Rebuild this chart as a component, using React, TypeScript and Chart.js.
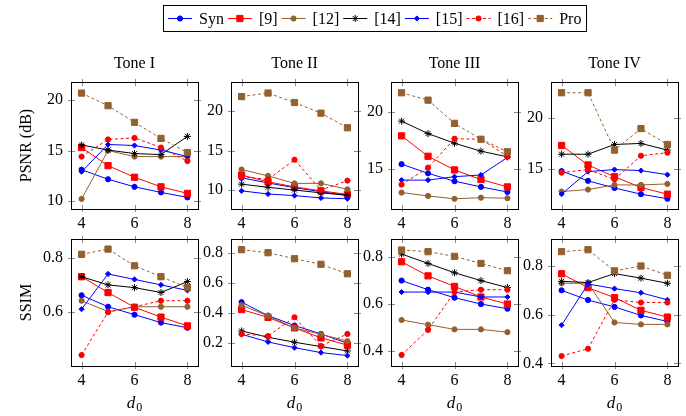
import React, { useEffect, useRef } from 'react';
import { Chart, registerables } from 'chart.js';

Chart.register(...registerables);

const FONT = "'Liberation Serif', 'Times New Roman', 'DejaVu Serif', serif";
const BROWN = '#93602f';
const W = 686;
const H = 416;

// ---------- data ----------
const xValues = [4, 5, 6, 7, 8];
const xTicks = [4, 6, 8];
const toneTitles = ['Tone I', 'Tone II', 'Tone III', 'Tone IV'];
const seriesLabels = ['Syn', '[9]', '[12]', '[14]', '[15]', '[16]', 'Pro'];

// PSNR (dB): one row per tone (I..IV), values at d0 = 4..8
const psnrSyn = [
  [13.1, 12.15, 11.4, 10.85, 10.35],
  [11.55, 10.9, 10.3, 9.8, 9.3],
  [15.4, 14.6, 13.9, 13.4, 12.95],
  [14.8, 13.85, 13.15, 12.55, 12.1],
];
const psnrRef9 = [
  [15.3, 13.5, 12.35, 11.4, 10.75],
  [11.9, 11.05, 10.4, 9.9, 9.45],
  [17.9, 16.1, 14.9, 14.05, 13.4],
  [17.3, 15.4, 14.25, 13.2, 12.55],
];
const psnrRef12 = [
  [10.2, 15.0, 14.4, 14.4, 14.4],
  [12.6, 11.8, 10.85, 10.85, 10.1],
  [12.9, 12.6, 12.35, 12.45, 12.4],
  [12.8, 13.0, 13.45, 13.45, 13.55],
];
const psnrRef14 = [
  [15.55, 15.05, 14.7, 14.6, 16.4],
  [10.75, 10.35, 10.0, 9.65, 9.35],
  [19.2, 18.1, 17.25, 16.55, 16.05],
  [16.45, 16.45, 17.4, 17.5, 16.85],
];
const psnrRef15 = [
  [12.9, 15.6, 15.5, 15.05, 14.4],
  [9.9, 9.5, 9.3, 9.0, 8.9],
  [14.0, 14.0, 14.3, 14.45, 16.0],
  [12.55, 14.75, 14.95, 14.85, 14.45],
];
const psnrRef16 = [
  [14.4, 16.1, 16.25, 15.3, 13.95],
  [11.7, 11.35, 13.85, 10.0, 11.2],
  [13.6, 15.1, 17.65, 17.6, 16.1],
  [14.65, 14.95, 14.0, 16.3, 16.6],
];
const psnrPro = [
  [20.7, 19.45, 17.8, 16.2, 14.8],
  [21.85, 22.3, 21.1, 19.75, 17.9],
  [21.7, 21.05, 19.0, 17.6, 16.5],
  [22.45, 22.45, 16.85, 18.95, 17.4],
];

// SSIM
const ssimSyn = [
  [0.662, 0.62, 0.591, 0.562, 0.543],
  [0.471, 0.382, 0.316, 0.26, 0.198],
  [0.70, 0.661, 0.627, 0.60, 0.58],
  [0.70, 0.66, 0.632, 0.597, 0.572],
];
const ssimRef9 = [
  [0.73, 0.672, 0.618, 0.582, 0.55],
  [0.422, 0.37, 0.30, 0.234, 0.186],
  [0.78, 0.72, 0.675, 0.63, 0.60],
  [0.768, 0.711, 0.67, 0.618, 0.59],
];
const ssimRef12 = [
  [0.642, 0.602, 0.62, 0.62, 0.62],
  [0.451, 0.38, 0.30, 0.258, 0.212],
  [0.532, 0.512, 0.492, 0.492, 0.48],
  [0.729, 0.729, 0.568, 0.56, 0.56],
];
const ssimRef14 = [
  [0.73, 0.70, 0.69, 0.672, 0.712],
  [0.28, 0.238, 0.205, 0.176, 0.147],
  [0.813, 0.773, 0.733, 0.70, 0.67],
  [0.737, 0.732, 0.769, 0.75, 0.729],
];
const ssimRef15 = [
  [0.611, 0.74, 0.72, 0.70, 0.68],
  [0.258, 0.207, 0.169, 0.136, 0.116],
  [0.651, 0.651, 0.651, 0.63, 0.63],
  [0.557, 0.726, 0.707, 0.69, 0.661],
];
const ssimRef16 = [
  [0.443, 0.60, 0.62, 0.642, 0.642],
  [0.26, 0.246, 0.371, 0.18, 0.26],
  [0.383, 0.49, 0.651, 0.661, 0.661],
  [0.43, 0.46, 0.661, 0.65, 0.65],
];
const ssimPro = [
  [0.812, 0.831, 0.77, 0.73, 0.69],
  [0.82, 0.80, 0.76, 0.723, 0.66],
  [0.83, 0.823, 0.803, 0.773, 0.742],
  [0.859, 0.867, 0.78, 0.80, 0.762],
];

// axis ranges and tick labels per tone
const psnrMin = [9.2, 7.6, 11.45, 11.1];
const psnrMax = [21.8, 23.7, 22.65, 23.5];
const psnrTicks = [[10, 15, 20], [10, 15, 20], [15, 20], [15, 20]];
const ssimMin = [0.403, 0.047, 0.336, 0.389];
const ssimMax = [0.868, 0.891, 0.877, 0.911];
const ssimTicks = [[0.6, 0.8], [0.2, 0.4, 0.6, 0.8], [0.4, 0.6, 0.8], [0.4, 0.6, 0.8]];
const rowTitles = ['PSNR (dB)', 'SSIM'];

const psnrSeries = [psnrSyn, psnrRef9, psnrRef12, psnrRef14, psnrRef15, psnrRef16, psnrPro];
const ssimSeries = [ssimSyn, ssimRef9, ssimRef12, ssimRef14, ssimRef15, ssimRef16, ssimPro];

// ---------- styles / layout ----------
type St = { color: string; pointStyle: string; radius: number; dash: number[] };
const seriesStyles: St[] = [
  { color: '#0000ff', pointStyle: 'circle', radius: 2.6, dash: [] },
  { color: '#ff0000', pointStyle: 'rect', radius: 4.4, dash: [] },
  { color: BROWN, pointStyle: 'circle', radius: 2.6, dash: [] },
  { color: '#000000', pointStyle: 'star', radius: 3.5, dash: [] },
  { color: '#0000ff', pointStyle: 'rectRot', radius: 2.6, dash: [] },
  { color: '#ff0000', pointStyle: 'circle', radius: 2.6, dash: [3, 2.5] },
  { color: BROWN, pointStyle: 'rect', radius: 4.4, dash: [3, 2.5] },
];

const colLeft = [71, 231, 391, 551];
const rowTop = [82, 239];
const plotW = 127;
const plotH = 127;

function drawMarker(ctx: CanvasRenderingContext2D, st: St, x: number, y: number) {
  const r = st.radius;
  ctx.save();
  ctx.fillStyle = st.color;
  ctx.strokeStyle = st.color;
  ctx.lineWidth = 1;
  ctx.setLineDash([]);
  ctx.beginPath();
  if (st.pointStyle === 'circle') {
    ctx.arc(x, y, r, 0, Math.PI * 2);
  } else if (st.pointStyle === 'rect') {
    const s = r * Math.SQRT1_2;
    ctx.rect(x - s, y - s, 2 * s, 2 * s);
  } else if (st.pointStyle === 'rectRot') {
    ctx.moveTo(x, y - r);
    ctx.lineTo(x + r, y);
    ctx.lineTo(x, y + r);
    ctx.lineTo(x - r, y);
    ctx.closePath();
  } else {
    for (let k = 0; k < 4; k++) {
      const a = (k * Math.PI) / 4;
      ctx.moveTo(x + Math.cos(a) * r, y + Math.sin(a) * r);
      ctx.lineTo(x - Math.cos(a) * r, y - Math.sin(a) * r);
    }
  }
  if (st.pointStyle !== 'star') ctx.fill();
  ctx.stroke();
  ctx.restore();
}

const legendPlugin = {
  id: 'groupLegend',
  afterDraw(chart: any) {
    const ctx: CanvasRenderingContext2D = chart.ctx;
    ctx.save();
    ctx.font = `16px ${FONT}`;
    const lineLen = 24;
    const gapText = 7;
    const gapEntry = 4;
    const widths = seriesLabels.map((t) => ctx.measureText(t).width);
    let total = 0;
    widths.forEach((w, i) => {
      total += lineLen + gapText + w + (i < widths.length - 1 ? gapEntry : 0);
    });
    const pad = 5;
    const center = (colLeft[0] + colLeft[3] + plotW) / 2;
    const boxL = Math.round(center - total / 2 - pad);
    const boxW = Math.round(total + 2 * pad);
    const boxT = 5;
    const boxH = 26;
    ctx.strokeStyle = '#000';
    ctx.lineWidth = 1;
    ctx.strokeRect(boxL + 0.5, boxT + 0.5, boxW, boxH);
    const cy = boxT + boxH / 2 + 0.5;
    let x = boxL + pad;
    seriesLabels.forEach((t, i) => {
      const st = seriesStyles[i];
      ctx.save();
      ctx.strokeStyle = st.color;
      ctx.lineWidth = 1;
      ctx.setLineDash(st.dash);
      ctx.beginPath();
      ctx.moveTo(x, cy);
      ctx.lineTo(x + lineLen, cy);
      ctx.stroke();
      ctx.restore();
      drawMarker(ctx, st, x + lineLen / 2, cy);
      ctx.fillStyle = '#000';
      ctx.textAlign = 'left';
      ctx.textBaseline = 'alphabetic';
      ctx.fillText(t, x + lineLen + gapText, 24);
      x += lineLen + gapText + widths[i] + gapEntry;
    });
    ctx.restore();
  },
};

function makeDecor(row: number, col: number) {
  return {
    id: 'panelDecor',
    afterDraw(chart: any) {
      const ctx: CanvasRenderingContext2D = chart.ctx;
      const { left, right, top, bottom } = chart.chartArea;
      const xs = chart.scales.x;
      const ys = chart.scales.y;
      ctx.save();
      // tick marks (centered on frame)
      ctx.strokeStyle = '#8a8a8a';
      ctx.lineWidth = 1;
      ctx.beginPath();
      xTicks.forEach((v) => {
        const px = Math.round(xs.getPixelForValue(v)) + 0.5;
        ctx.moveTo(px, bottom - 4);
        ctx.lineTo(px, bottom + 3);
        ctx.moveTo(px, top - 3);
        ctx.lineTo(px, top + 4);
      });
      const yt = row === 0 ? psnrTicks[col] : ssimTicks[col];
      yt.forEach((v) => {
        const py = Math.round(ys.getPixelForValue(v)) + 0.5;
        ctx.moveTo(left - 3, py);
        ctx.lineTo(left + 4, py);
        ctx.moveTo(right - 4, py);
        ctx.lineTo(right + 3, py);
      });
      ctx.stroke();
      // frame
      ctx.strokeStyle = '#000';
      ctx.strokeRect(Math.round(left) + 0.5, Math.round(top) + 0.5, Math.round(right - left), Math.round(bottom - top));
      // column title
      ctx.fillStyle = '#000';
      if (row === 0) {
        ctx.font = `16px ${FONT}`;
        ctx.textAlign = 'center';
        ctx.textBaseline = 'alphabetic';
        ctx.fillText(toneTitles[col], (left + right) / 2, top - 14);
      } else {
        // x-axis title d_0
        ctx.textBaseline = 'alphabetic';
        ctx.textAlign = 'left';
        ctx.font = `italic 17px ${FONT}`;
        const wd = ctx.measureText('d').width;
        ctx.font = `12px ${FONT}`;
        const w0 = ctx.measureText('0').width;
        const x0 = (left + right) / 2 - (wd + w0 + 1) / 2;
        ctx.font = `italic 17px ${FONT}`;
        ctx.fillText('d', x0, 408);
        ctx.font = `12px ${FONT}`;
        ctx.fillText('0', x0 + wd + 1, 411);
      }
      ctx.restore();
    },
  };
}

function buildConfig(row: number, col: number): any {
  const series = row === 0 ? psnrSeries : ssimSeries;
  const L = colLeft[col];
  const T = rowTop[row];
  const R = L + plotW;
  const B = T + plotH;
  const yW = col === 0 ? 60 : 30;
  const xH = 20;
  const datasets = seriesLabels.map((label, i) => {
    const st = seriesStyles[i];
    return {
      label,
      data: xValues.map((x, j) => ({ x, y: series[i][col][j] })),
      borderColor: st.color,
      backgroundColor: st.color,
      borderWidth: 1,
      borderDash: st.dash,
      pointStyle: st.pointStyle,
      pointRadius: st.radius,
      pointBorderColor: st.color,
      pointBackgroundColor: st.color,
      pointBorderWidth: 1,
      tension: 0,
      fill: false,
      order: seriesLabels.length - i,
    };
  });
  const ticksFont = { family: FONT, size: 16 };
  const yTickVals = row === 0 ? psnrTicks[col] : ssimTicks[col];
  const plugins: any[] = [makeDecor(row, col)];
  if (row === 0 && col === 0) plugins.push(legendPlugin);
  return {
    type: 'line',
    data: { datasets },
    options: {
      responsive: false,
      animation: false,
      devicePixelRatio: 1,
      events: [],
      layout: { padding: { left: L - yW, top: T, right: W - R, bottom: H - B - xH } },
      plugins: { legend: { display: false }, tooltip: { enabled: false }, title: { display: false } },
      scales: {
        x: {
          type: 'linear',
          min: 3.6,
          max: 8.4,
          afterBuildTicks: (s: any) => {
            s.ticks = xTicks.map((v) => ({ value: v }));
          },
          afterFit: (s: any) => {
            s.height = xH;
          },
          grid: { display: false, drawTicks: false },
          border: { display: false },
          ticks: { color: '#000', font: ticksFont, padding: 5, maxRotation: 0, autoSkip: false },
        },
        y: {
          type: 'linear',
          min: row === 0 ? psnrMin[col] : ssimMin[col],
          max: row === 0 ? psnrMax[col] : ssimMax[col],
          afterBuildTicks: (s: any) => {
            s.ticks = yTickVals.map((v) => ({ value: v }));
          },
          afterFit: (s: any) => {
            s.width = yW;
          },
          grid: { display: false, drawTicks: false },
          border: { display: false },
          ticks: { color: '#000', font: ticksFont, padding: 8, autoSkip: false },
          title:
            col === 0
              ? { display: true, text: rowTitles[row], color: '#000', font: { family: FONT, size: 16 }, padding: { top: 6, bottom: 0 } }
              : { display: false },
        },
      },
    },
    plugins,
  };
}

function Panel({ row, col }: { row: number; col: number }) {
  const ref = useRef<HTMLCanvasElement>(null);
  useEffect(() => {
    if (!ref.current) return;
    const chart = new Chart(ref.current, buildConfig(row, col));
    return () => chart.destroy();
  }, [row, col]);
  return (
    <canvas
      ref={ref}
      width={W}
      height={H}
      style={{ position: 'absolute', left: 0, top: 0, width: W, height: H, pointerEvents: 'none' }}
    />
  );
}

export default function App() {
  const panels: { row: number; col: number }[] = [];
  for (let r = 0; r < 2; r++) for (let c = 0; c < 4; c++) panels.push({ row: r, col: c });
  return (
    <div style={{ position: 'absolute', left: 0, top: 0, width: W, height: H, background: '#fff', overflow: 'hidden' }}>
      {panels.map((p) => (
        <Panel key={`${p.row}-${p.col}`} row={p.row} col={p.col} />
      ))}
    </div>
  );
}
